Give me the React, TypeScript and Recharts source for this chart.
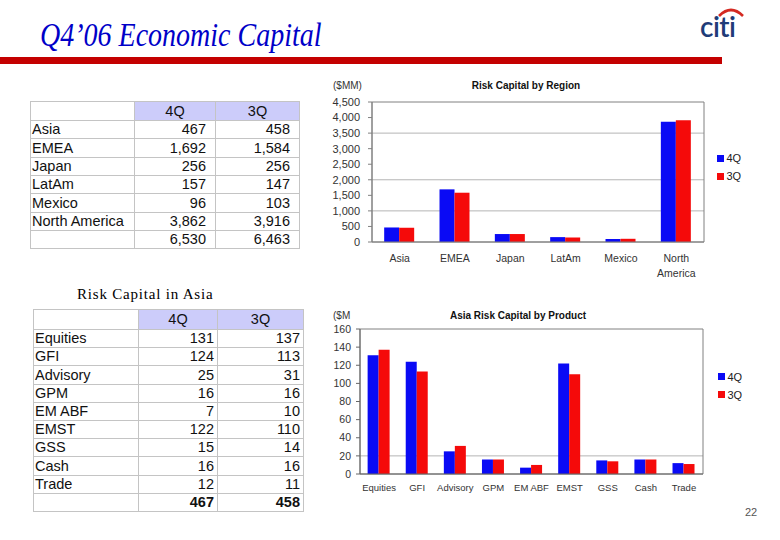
import React from 'react';
import { BarChart, Bar, XAxis, YAxis, CartesianGrid, Legend, ReferenceArea } from 'recharts';

// ---------- data ----------
const seriesNames = ['4Q', '3Q'];

const regions = ['Asia', 'EMEA', 'Japan', 'LatAm', 'Mexico', 'North America'];
const region4Q = [467, 1692, 256, 157, 96, 3862];
const region3Q = [458, 1584, 256, 147, 103, 3916];
const regionTotals = [6530, 6463];
const regionTicks = [0, 500, 1000, 1500, 2000, 2500, 3000, 3500, 4000, 4500];
const regionGridValues = [1000, 2000, 3500];

const products = ['Equities', 'GFI', 'Advisory', 'GPM', 'EM ABF', 'EMST', 'GSS', 'Cash', 'Trade'];
const product4Q = [131, 124, 25, 16, 7, 122, 15, 16, 12];
const product3Q = [137, 113, 31, 16, 10, 110, 14, 16, 11];
const productTotals = [467, 458];
const productTicks = [0, 20, 40, 60, 80, 100, 120, 140, 160];
const productGridValues = [20];

// ---------- styles ----------
const SANS = '"Liberation Sans", Arial, sans-serif';
const SERIF = '"Liberation Serif", "Times New Roman", serif';
const BLUE = '#0a0af5';
const RED = '#f50a0a';
const AXIS = '#808080';
const GRID = '#b4b4b4';
const TABLE_LINE = '#c4c4c4';
const HEADER_BG = '#ccccfa';

const fmt = (v: number) => v.toLocaleString('en-US');

const regionData = regions.map((r, i) => ({ name: r, q4: region4Q[i], q3: region3Q[i] }));
const productData = products.map((p, i) => ({ name: p, q4: product4Q[i], q3: product3Q[i] }));

// ---------- table ----------
type TableProps = {
  left: number;
  top: number;
  colEdges: number[];
  headerH: number;
  rowH: number;
  labels: string[];
  a: number[];
  b: number[];
  totals: number[];
  padRight: number;
  boldTotals: boolean;
};

function DataTable(p: TableProps) {
  const rows: { cells: string[]; bold: boolean; header: boolean }[] = [];
  rows.push({ cells: ['', seriesNames[0], seriesNames[1]], bold: false, header: true });
  p.labels.forEach((l, i) => rows.push({ cells: [l, fmt(p.a[i]), fmt(p.b[i])], bold: false, header: false }));
  rows.push({ cells: ['', fmt(p.totals[0]), fmt(p.totals[1])], bold: p.boldTotals, header: false });
  const out: React.ReactNode[] = [];
  rows.forEach((row, ri) => {
    const y0 = ri === 0 ? p.top : Math.round(p.top + p.headerH + (ri - 1) * p.rowH);
    const y1 = ri === 0 ? p.top + p.headerH : Math.round(p.top + p.headerH + ri * p.rowH);
    row.cells.forEach((c, ci) => {
      const x0 = p.colEdges[ci];
      const x1 = p.colEdges[ci + 1];
      const isHeaderVal = row.header && ci > 0;
      out.push(
        <div
          key={ri + '-' + ci}
          style={{
            position: 'absolute',
            left: x0,
            top: y0,
            width: x1 - x0 + 1,
            height: y1 - y0 + 1,
            boxSizing: 'border-box',
            border: '1px solid ' + TABLE_LINE,
            background: isHeaderVal ? HEADER_BG : '#fff',
            fontFamily: SANS,
            fontSize: 14.5,
            fontWeight: row.bold ? 'bold' : 'normal',
            color: '#111',
            lineHeight: y1 - y0 - 1 + 'px',
            textAlign: ci === 0 ? 'left' : row.header ? 'center' : 'right',
            paddingLeft: ci === 0 ? 1 : 0,
            paddingRight: ci > 0 && !row.header ? p.padRight : 0,
            whiteSpace: 'nowrap',
            overflow: 'hidden',
          }}
        >
          {c}
        </div>
      );
    });
  });
  return <>{out}</>;
}

// ---------- chart helpers ----------
const makeTick = (offset: number, fontSize: number) => (props: any) => {
  const { x, y, payload } = props;
  const words = String(payload.value).split(' ');
  const lines = words.length > 1 && String(payload.value).length > 8 ? words : [String(payload.value)];
  return (
    <text x={x} y={y} textAnchor="middle" fontSize={fontSize} fill="#333" fontFamily={SANS}>
      {lines.map((w, i) => (
        <tspan key={i} x={x} y={y + offset + i * 15}>
          {w}
        </tspan>
      ))}
    </text>
  );
};

const LegendBox = (props: any) => {
  const payload = [...(props.payload || [])].sort(
    (a: any, b: any) => seriesNames.indexOf(a.value) - seriesNames.indexOf(b.value)
  );
  return (
    <div style={{ fontFamily: SANS, fontSize: 11, color: '#222' }}>
      {payload.map((it: any, i: number) => (
        <div key={i} style={{ display: 'flex', alignItems: 'center', height: 17.7 }}>
          <span style={{ display: 'inline-block', width: 6.5, height: 7, background: it.color, marginRight: 3 }} />
          <span>{it.value}</span>
        </div>
      ))}
    </div>
  );
};

function RegionChart() {
  return (
    <BarChart
      width={460}
      height={210}
      data={regionData}
      margin={{ top: 27, right: 66, left: 0, bottom: 0 }}
      barCategoryGap="22%"
      barGap={0}
    >
      <CartesianGrid vertical={false} horizontalValues={regionGridValues} stroke={GRID} />
      <XAxis
        dataKey="name"
        height={43}
        interval={0}
        tickLine={false}
        tickSize={0}
        tickMargin={0}
        axisLine={{ stroke: AXIS }}
        tick={makeTick(19.5, 10.5)}
      />
      <YAxis
        width={62}
        domain={[0, 4500]}
        ticks={regionTicks}
        interval={0}
        tickFormatter={fmt}
        tick={{ fontSize: 11, fill: '#333', fontFamily: SANS }}
        tickSize={4}
        tickMargin={8}
        axisLine={{ stroke: AXIS }}
        tickLine={{ stroke: AXIS }}
      />
      <ReferenceArea y1={0} y2={4500} fill="none" stroke={AXIS} ifOverflow="visible" />
      <Bar dataKey="q4" name={seriesNames[0]} fill={BLUE} isAnimationActive={false} />
      <Bar dataKey="q3" name={seriesNames[1]} fill={RED} isAnimationActive={false} />
      <Legend
        layout="vertical"
        align="center"
        verticalAlign="middle"
        content={<LegendBox />}
        wrapperStyle={{ left: 407, top: 74.5, width: 50 }}
      />
    </BarChart>
  );
}

function ProductChart() {
  return (
    <BarChart
      width={460}
      height={230}
      data={productData}
      margin={{ top: 29, right: 67, left: 0, bottom: 0 }}
      barCategoryGap="20%"
      barGap={0}
    >
      <CartesianGrid vertical={false} horizontalValues={productGridValues} stroke={GRID} />
      <XAxis
        dataKey="name"
        height={56}
        interval={0}
        tickLine={false}
        tickSize={0}
        tickMargin={0}
        axisLine={{ stroke: '#666' }}
        tick={makeTick(17, 9.5)}
      />
      <YAxis
        width={50}
        domain={[0, 160]}
        ticks={productTicks}
        interval={0}
        tick={{ fontSize: 10.5, fill: '#333', fontFamily: SANS }}
        tickSize={4}
        tickMargin={5}
        axisLine={{ stroke: '#666' }}
        tickLine={{ stroke: '#666' }}
      />
      <ReferenceArea y1={0} y2={160} fill="none" stroke={AXIS} ifOverflow="visible" />
      <Bar dataKey="q4" name={seriesNames[0]} fill={BLUE} isAnimationActive={false} />
      <Bar dataKey="q3" name={seriesNames[1]} fill={RED} isAnimationActive={false} />
      <Legend
        layout="vertical"
        align="center"
        verticalAlign="middle"
        content={<LegendBox />}
        wrapperStyle={{ left: 408, top: 68, width: 50 }}
      />
    </BarChart>
  );
}

const abs = (left: number, top: number, extra: React.CSSProperties = {}): React.CSSProperties => ({
  position: 'absolute',
  left,
  top,
  ...extra,
});

export default function App() {
  return (
    <div
      style={{
        position: 'absolute',
        left: 0,
        top: 0,
        width: 780,
        height: 540,
        background: '#fff',
        overflow: 'hidden',
      }}
    >
      {/* title */}
      <div
        style={abs(40, 23, {
          fontFamily: SERIF,
          fontStyle: 'italic',
          fontSize: 28,
          lineHeight: '28px',
          color: '#0000c8',
          whiteSpace: 'nowrap',
          transform: 'scaleY(1.2)',
          transformOrigin: '0 23px',
        })}
      >
        Q4’06 Economic Capital
      </div>
      {/* red rule */}
      <div style={abs(0, 57, { width: 722, height: 7, background: '#c40000' })} />
      {/* logo */}
      <svg style={abs(695, 4)} width={60} height={40}>
        <path d="M 24 12 Q 36 0 48 12" fill="none" stroke="#d42a22" strokeWidth={2.6} />
        <text
          x={5}
          y={33}
          fontFamily='Lato, "Open Sans", sans-serif'
          fontWeight={600}
          fontSize={28}
          fill="#1f3c78"
          letterSpacing={-0.5}
        >
          citi
        </text>
      </svg>

      {/* region table */}
      <DataTable
        left={30}
        top={101}
        colEdges={[30, 134, 215, 299]}
        headerH={19}
        rowH={18.35}
        labels={regions}
        a={region4Q}
        b={region3Q}
        totals={regionTotals}
        padRight={9}
        boldTotals={false}
      />

      {/* region chart */}
      <div style={abs(333, 79, { fontFamily: SANS, fontSize: 10, color: '#333', lineHeight: '13px' })}>($MM)</div>
      <div
        style={abs(426, 79, {
          width: 200,
          textAlign: 'center',
          fontFamily: SANS,
          fontWeight: 'bold',
          fontSize: 10,
          color: '#111',
          lineHeight: '13px',
        })}
      >
        Risk Capital by Region
      </div>
      <div style={abs(310, 75)}>
        <RegionChart />
      </div>

      {/* asia caption */}
      <div
        style={abs(77, 285, {
          fontFamily: SERIF,
          fontSize: 15,
          letterSpacing: 0.8,
          color: '#000',
          lineHeight: '18px',
          whiteSpace: 'nowrap',
        })}
      >
        Risk Capital in Asia
      </div>

      {/* product table */}
      <DataTable
        left={33}
        top={309}
        colEdges={[33, 138, 217, 303]}
        headerH={20}
        rowH={18.2}
        labels={products}
        a={product4Q}
        b={product3Q}
        totals={productTotals}
        padRight={3}
        boldTotals={true}
      />

      {/* product chart */}
      <div style={abs(333, 309, { fontFamily: SANS, fontSize: 10, color: '#333', lineHeight: '13px' })}>($M</div>
      <div
        style={abs(418, 309, {
          width: 200,
          textAlign: 'center',
          fontFamily: SANS,
          fontWeight: 'bold',
          fontSize: 10,
          color: '#111',
          lineHeight: '13px',
        })}
      >
        Asia Risk Capital by Product
      </div>
      <div style={abs(310, 300)}>
        <ProductChart />
      </div>

      {/* page number */}
      <div style={abs(745, 506, { fontFamily: SANS, fontSize: 11, color: '#555', lineHeight: '13px' })}>22</div>
    </div>
  );
}
